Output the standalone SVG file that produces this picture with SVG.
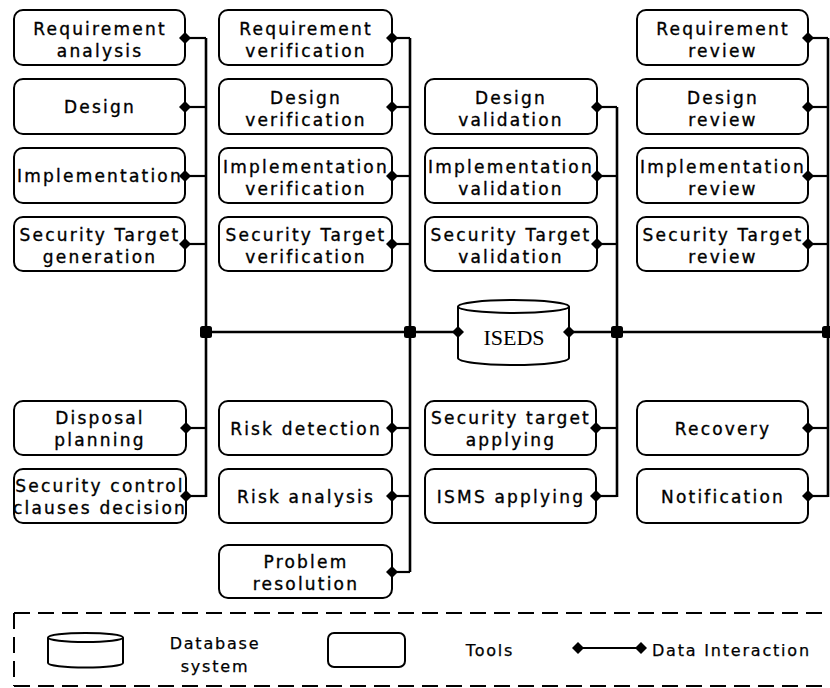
<svg xmlns="http://www.w3.org/2000/svg" width="830" height="688" viewBox="0 0 830 688">
  <style>
    .box { fill: #fff; stroke: #000; stroke-width: 2; }
    .lbl { font-family: "DejaVu Sans", Verdana, sans-serif; font-size: 17px; letter-spacing: 2.2px; fill: #000; stroke: #000; stroke-width: 0.35; text-anchor: middle; }
    .leg { font-family: "DejaVu Sans", Verdana, sans-serif; font-size: 16px; letter-spacing: 1.8px; fill: #000; stroke: #000; stroke-width: 0.25; }
    .db { font-family: "Liberation Serif", "Times New Roman", serif; font-size: 22px; fill: #000; text-anchor: middle; }
    .stub { fill: none; stroke: #000; stroke-width: 2.2; }
    .bus { fill: none; stroke: #000; stroke-width: 2.6; }
    .dash { fill: none; stroke: #000; stroke-width: 2; stroke-dasharray: 16 8; }
    .jn { fill: #000; }
  </style>
  <defs>
    <!-- data-interaction end point -->
    <path id="dia" d="M-6,0 L0,-6 L6,0 L0,6 Z" fill="#000"/>
  </defs>

  <!-- column 1: development -->
  <g id="req-analysis">
    <rect class="box" x="14" y="10" width="171" height="55" rx="9"/>
    <text class="lbl" x="100" y="35">Requirement</text>
    <text class="lbl" x="100" y="57">analysis</text>
  </g>
  <g id="design">
    <rect class="box" x="14" y="79" width="171" height="55" rx="9"/>
    <text class="lbl" x="100" y="113">Design</text>
  </g>
  <g id="implementation">
    <rect class="box" x="14" y="148" width="171" height="55" rx="9"/>
    <text class="lbl" x="100" y="182">Implementation</text>
  </g>
  <g id="st-generation">
    <rect class="box" x="14" y="217" width="171" height="54" rx="9"/>
    <text class="lbl" x="100" y="241">Security Target</text>
    <text class="lbl" x="100" y="263">generation</text>
  </g>
  <g id="disposal-planning">
    <rect class="box" x="14" y="401" width="172" height="54" rx="9"/>
    <text class="lbl" x="100" y="424">Disposal</text>
    <text class="lbl" x="100" y="446">planning</text>
  </g>
  <g id="security-control">
    <rect class="box" x="14" y="469" width="172" height="54" rx="9"/>
    <text class="lbl" x="100" y="492">Security control</text>
    <text class="lbl" x="100" y="514">clauses decision</text>
  </g>

  <!-- column 2: verification -->
  <g id="req-verification">
    <rect class="box" x="219" y="10" width="173" height="55" rx="9"/>
    <text class="lbl" x="306" y="35">Requirement</text>
    <text class="lbl" x="306" y="57">verification</text>
  </g>
  <g id="design-verification">
    <rect class="box" x="219" y="79" width="173" height="55" rx="9"/>
    <text class="lbl" x="306" y="104">Design</text>
    <text class="lbl" x="306" y="126">verification</text>
  </g>
  <g id="impl-verification">
    <rect class="box" x="219" y="148" width="173" height="55" rx="9"/>
    <text class="lbl" x="306" y="173">Implementation</text>
    <text class="lbl" x="306" y="195">verification</text>
  </g>
  <g id="st-verification">
    <rect class="box" x="219" y="217" width="173" height="54" rx="9"/>
    <text class="lbl" x="306" y="241">Security Target</text>
    <text class="lbl" x="306" y="263">verification</text>
  </g>
  <g id="risk-detection">
    <rect class="box" x="219" y="401" width="173" height="54" rx="9"/>
    <text class="lbl" x="306" y="435">Risk detection</text>
  </g>
  <g id="risk-analysis">
    <rect class="box" x="219" y="469" width="173" height="54" rx="9"/>
    <text class="lbl" x="306" y="503">Risk analysis</text>
  </g>
  <g id="problem-resolution">
    <rect class="box" x="219" y="545" width="173" height="53" rx="9"/>
    <text class="lbl" x="306" y="568">Problem</text>
    <text class="lbl" x="306" y="590">resolution</text>
  </g>

  <!-- column 3: validation -->
  <g id="design-validation">
    <rect class="box" x="425" y="79" width="172" height="55" rx="9"/>
    <text class="lbl" x="511" y="104">Design</text>
    <text class="lbl" x="511" y="126">validation</text>
  </g>
  <g id="impl-validation">
    <rect class="box" x="425" y="148" width="172" height="55" rx="9"/>
    <text class="lbl" x="511" y="173">Implementation</text>
    <text class="lbl" x="511" y="195">validation</text>
  </g>
  <g id="st-validation">
    <rect class="box" x="425" y="217" width="172" height="54" rx="9"/>
    <text class="lbl" x="511" y="241">Security Target</text>
    <text class="lbl" x="511" y="263">validation</text>
  </g>
  <g id="st-applying">
    <rect class="box" x="425" y="401" width="171" height="54" rx="9"/>
    <text class="lbl" x="511" y="424">Security target</text>
    <text class="lbl" x="511" y="446">applying</text>
  </g>
  <g id="isms-applying">
    <rect class="box" x="425" y="469" width="171" height="54" rx="9"/>
    <text class="lbl" x="511" y="503">ISMS applying</text>
  </g>

  <!-- column 4: review -->
  <g id="req-review">
    <rect class="box" x="637" y="10" width="171" height="55" rx="9"/>
    <text class="lbl" x="723" y="35">Requirement</text>
    <text class="lbl" x="723" y="57">review</text>
  </g>
  <g id="design-review">
    <rect class="box" x="637" y="79" width="171" height="55" rx="9"/>
    <text class="lbl" x="723" y="104">Design</text>
    <text class="lbl" x="723" y="126">review</text>
  </g>
  <g id="impl-review">
    <rect class="box" x="637" y="148" width="171" height="55" rx="9"/>
    <text class="lbl" x="723" y="173">Implementation</text>
    <text class="lbl" x="723" y="195">review</text>
  </g>
  <g id="st-review">
    <rect class="box" x="637" y="217" width="171" height="54" rx="9"/>
    <text class="lbl" x="723" y="241">Security Target</text>
    <text class="lbl" x="723" y="263">review</text>
  </g>
  <g id="recovery">
    <rect class="box" x="637" y="401" width="171" height="54" rx="9"/>
    <text class="lbl" x="723" y="435">Recovery</text>
  </g>
  <g id="notification">
    <rect class="box" x="637" y="469" width="171" height="54" rx="9"/>
    <text class="lbl" x="723" y="503">Notification</text>
  </g>

  <!-- central database -->
  <g id="iseds">
    <path class="box" d="M458,306.5 V358 A55.5,7 0 0 0 569,358 V306.5"/>
    <ellipse class="box" cx="513.5" cy="306.5" rx="55.5" ry="6.5"/>
    <text class="db" x="514" y="345">ISEDS</text>
  </g>

  <!-- bus lines, stubs and end points (drawn over the node edges) -->
  <g id="connectors">
    <path class="bus" d="M206,38 V497" stroke-width="3"/>
    <path class="bus" d="M410,38 V572"/>
    <path class="bus" d="M617,107 V497"/>
    <path class="bus" d="M828,38 V497"/>
    <path class="bus" d="M206,332 H458"/>
    <path class="bus" d="M569,332 H830"/>
    <use href="#dia" x="458" y="332"/>
    <use href="#dia" x="569" y="332"/>

    <!-- column 1 -->
    <path class="stub" d="M185,38 H206"/>
    <path class="stub" d="M185,107 H206"/>
    <path class="stub" d="M185,176 H206"/>
    <path class="stub" d="M185,244 H206"/>
    <path class="stub" d="M186,428 H206"/>
    <path class="stub" d="M186,496 H206" stroke-width="3"/>
    <use href="#dia" x="185" y="38"/>
    <use href="#dia" x="185" y="107"/>
    <use href="#dia" x="185" y="176"/>
    <use href="#dia" x="185" y="244"/>
    <use href="#dia" x="186" y="428"/>
    <use href="#dia" x="186" y="496"/>
    <!-- column 2 -->
    <path class="stub" d="M392,38 H410"/>
    <path class="stub" d="M392,107 H410"/>
    <path class="stub" d="M392,176 H410"/>
    <path class="stub" d="M392,244 H410"/>
    <path class="stub" d="M392,428 H410"/>
    <path class="stub" d="M392,496 H410" stroke-width="3"/>
    <path class="stub" d="M392,572 H410"/>
    <use href="#dia" x="392" y="38"/>
    <use href="#dia" x="392" y="107"/>
    <use href="#dia" x="392" y="176"/>
    <use href="#dia" x="392" y="244"/>
    <use href="#dia" x="392" y="428"/>
    <use href="#dia" x="392" y="496"/>
    <use href="#dia" x="392" y="572"/>
    <!-- column 3 -->
    <path class="stub" d="M597,107 H617"/>
    <path class="stub" d="M597,176 H617"/>
    <path class="stub" d="M597,244 H617"/>
    <path class="stub" d="M596,428 H617"/>
    <path class="stub" d="M596,496 H617" stroke-width="3"/>
    <use href="#dia" x="597" y="107"/>
    <use href="#dia" x="597" y="176"/>
    <use href="#dia" x="597" y="244"/>
    <use href="#dia" x="596" y="428"/>
    <use href="#dia" x="596" y="496"/>
    <!-- column 4 -->
    <path class="stub" d="M808,38 H828"/>
    <path class="stub" d="M808,107 H828"/>
    <path class="stub" d="M808,176 H828"/>
    <path class="stub" d="M808,244 H828"/>
    <path class="stub" d="M808,428 H828"/>
    <path class="stub" d="M808,496 H828" stroke-width="3"/>
    <use href="#dia" x="808" y="38"/>
    <use href="#dia" x="808" y="107"/>
    <use href="#dia" x="808" y="176"/>
    <use href="#dia" x="808" y="244"/>
    <use href="#dia" x="808" y="428"/>
    <use href="#dia" x="808" y="496"/>

    <!-- junctions on the horizontal bus -->
    <rect class="jn" x="200" y="326" width="12" height="12" rx="2.5"/>
    <rect class="jn" x="404" y="326" width="12" height="12" rx="2.5"/>
    <rect class="jn" x="611" y="326" width="12" height="12" rx="2.5"/>
    <rect class="jn" x="822" y="326" width="12" height="12" rx="2.5"/>
  </g>

  <!-- legend -->
  <g id="legend">
    <path class="dash" d="M14,613 H830"/>
    <path class="dash" d="M14,686 H830"/>
    <path class="dash" d="M14,613 V686"/>
    <path class="box" d="M48,637.5 V663 A37.5,4.5 0 0 0 123,663 V637.5"/>
    <ellipse class="box" cx="85.5" cy="637.5" rx="37.5" ry="4.5"/>
    <text class="leg" x="215" y="649" text-anchor="middle">Database</text>
    <text class="leg" x="215" y="672" text-anchor="middle">system</text>
    <rect class="box" x="328" y="633" width="77" height="34" rx="6"/>
    <text class="leg" x="490" y="656" text-anchor="middle">Tools</text>
    <path d="M578,648 H641" stroke="#000" stroke-width="2"/>
    <use href="#dia" x="578" y="648"/>
    <use href="#dia" x="641" y="648"/>
    <text class="leg" x="652" y="656">Data Interaction</text>
  </g>
</svg>
